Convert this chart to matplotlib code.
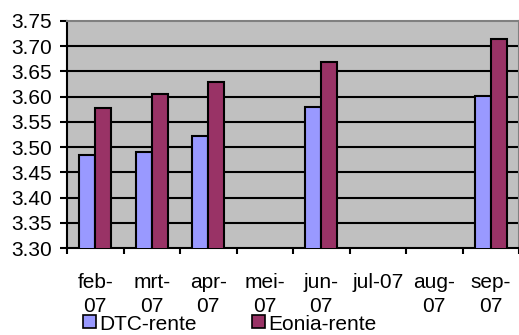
import matplotlib
matplotlib.use("Agg")
import matplotlib.pyplot as plt
import numpy as np
from matplotlib.patches import Rectangle

months = ["feb-\n07", "mrt-\n07", "apr-\n07", "mei-\n07", "jun-\n07", "jul-07", "aug-\n07", "sep-\n07"]
dtc_rente = [3.485, 3.490, 3.522, np.nan, 3.580, np.nan, np.nan, 3.601]
eonia_rente = [3.577, 3.605, 3.629, np.nan, 3.669, np.nan, np.nan, 3.715]
y_ticks = [3.30, 3.35, 3.40, 3.45, 3.50, 3.55, 3.60, 3.65, 3.70, 3.75]
series_names = ["DTC-rente", "Eonia-rente"]
series_colors = ["#9999ff", "#993366"]

plt.rcParams["font.family"] = ["Liberation Sans", "DejaVu Sans"]
FS = 15

W, H = 519, 335
fig = plt.figure(figsize=(W / 100, H / 100), dpi=100)
ax = fig.add_axes([67 / W, (H - 248) / H, (W - 67) / W, (248 - 21) / H])
ax.set_facecolor("#c0c0c0")

x = np.arange(len(months))
bw = 0.283
ax.bar(x - bw / 2, dtc_rente, bw, bottom=0, color=series_colors[0], edgecolor="black", linewidth=1.5, zorder=3)
ax.bar(x + bw / 2, eonia_rente, bw, bottom=0, color=series_colors[1], edgecolor="black", linewidth=1.5, zorder=3)

ax.set_xlim(-0.5, len(months) - 0.5)
ax.set_ylim(3.30, 3.75)
ax.set_yticks(y_ticks)
ax.set_yticklabels([f"{v:.2f}" for v in y_ticks], fontsize=FS)
for v in y_ticks[1:-1]:
    ax.axhline(v, color="black", linewidth=1.5, zorder=1)

ax.set_xticks(x)
ax.set_xticklabels(months, fontsize=FS, linespacing=1.33)
ax.set_xticks(np.arange(len(months) + 1) - 0.5, minor=True)
ax.tick_params(axis="x", which="major", length=0, pad=18)
ax.tick_params(axis="x", which="minor", length=4.5, width=1.5, direction="out")
ax.tick_params(axis="y", length=5, width=1.5, direction="out", pad=5.8)

for side in ("left", "bottom"):
    ax.spines[side].set_color("black")
    ax.spines[side].set_linewidth(1.5)
for side in ("top", "right"):
    ax.spines[side].set_color("#808080")
    ax.spines[side].set_linewidth(1.5)

# legend drawn in figure pixel coordinates along the bottom edge
legend_x = [83, 252]
for lx, name, col in zip(legend_x, series_names, series_colors):
    fig.patches.append(Rectangle((lx / W, (H - 328) / H), 13 / W, 13 / H,
                                 transform=fig.transFigure, facecolor=col,
                                 edgecolor="black", linewidth=1.2))
    fig.text((lx + 16) / W, (H - 330.5) / H, name, fontsize=FS, va="baseline", ha="left")

fig.savefig("out.png", dpi=100)
